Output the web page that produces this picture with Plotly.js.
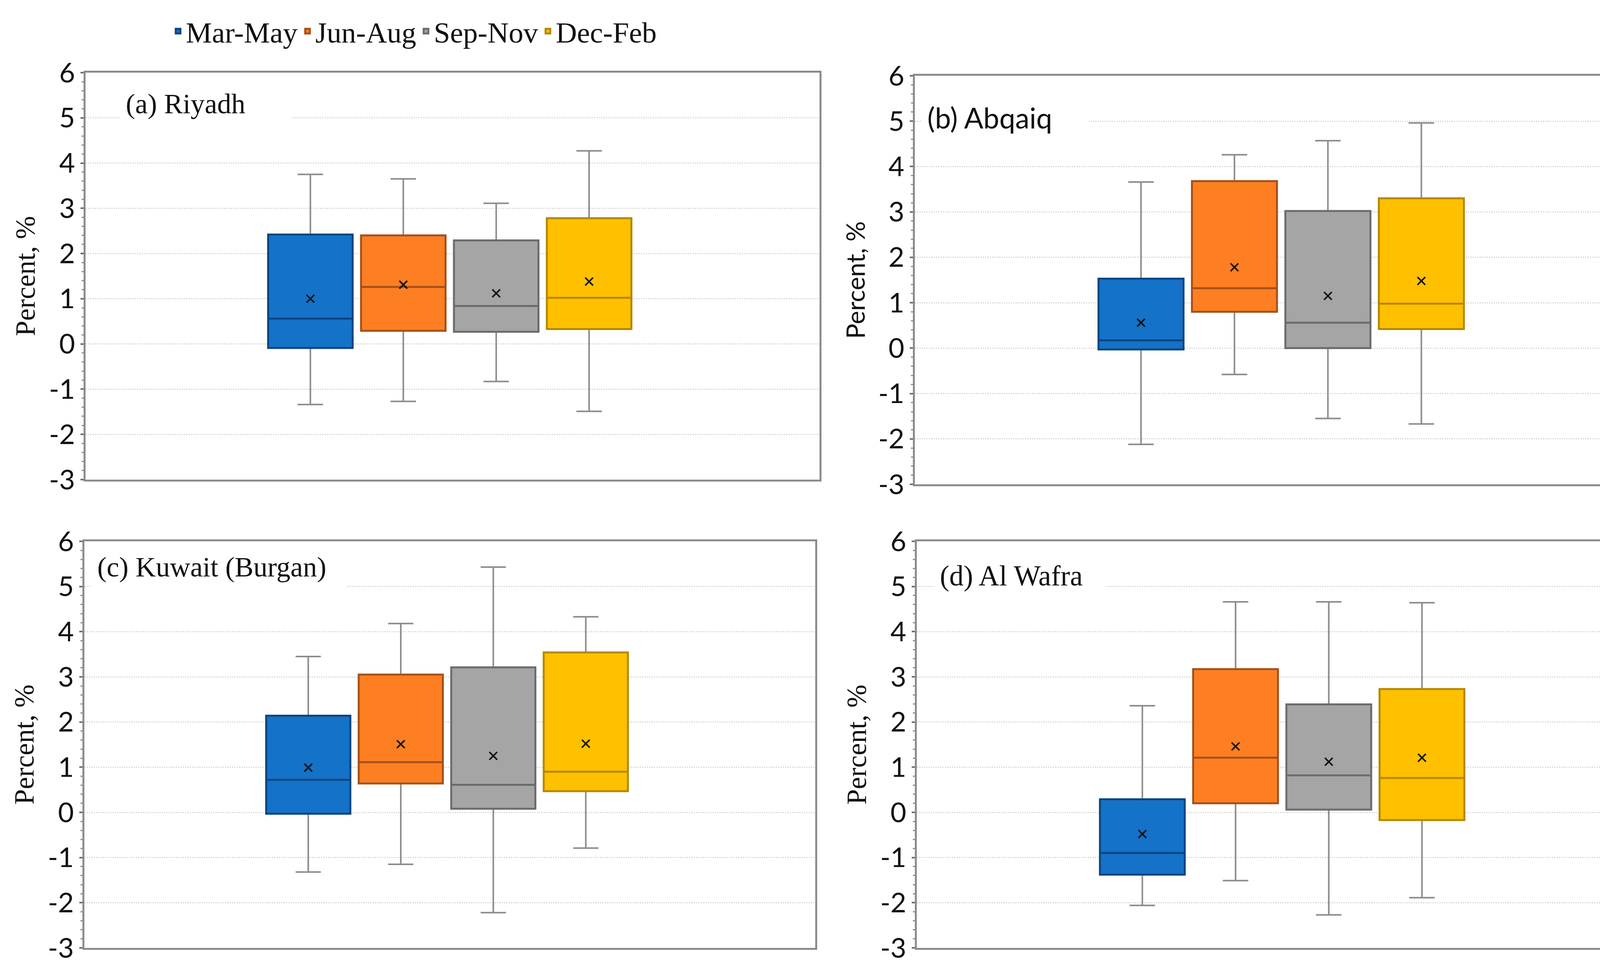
<!DOCTYPE html>
<html>
<head>
<meta charset="utf-8">
<script src="https://cdn.plot.ly/plotly-3.0.1.min.js"></script>
<style>html,body{margin:0;padding:0;background:#fff;}#chart{width:4273px;height:2499px;}</style>
</head>
<body>
<div id="chart"></div>
<script>
// ---- data ----
const seasons = ["Mar-May", "Jun-Aug", "Sep-Nov", "Dec-Feb"];
const stations = ["(a) Riyadh", "(b) Abqaiq", "(c) Kuwait (Burgan)", "(d) Al Wafra"];

const riyadhUpper  = [3.75, 3.65, 3.11, 4.27];
const riyadhQ3     = [2.42, 2.40, 2.29, 2.78];
const riyadhMedian = [0.56, 1.26, 0.84, 1.02];
const riyadhQ1     = [-0.09, 0.29, 0.27, 0.33];
const riyadhLower  = [-1.34, -1.27, -0.83, -1.49];
const riyadhMean   = [1.00, 1.31, 1.12, 1.38];

const abqaiqUpper  = [3.66, 4.26, 4.57, 4.96];
const abqaiqQ3     = [1.53, 3.68, 3.02, 3.30];
const abqaiqMedian = [0.17, 1.32, 0.56, 0.98];
const abqaiqQ1     = [-0.03, 0.80, 0.00, 0.42];
const abqaiqLower  = [-2.12, -0.58, -1.55, -1.67];
const abqaiqMean   = [0.56, 1.78, 1.15, 1.48];

const kuwaitUpper  = [3.45, 4.18, 5.43, 4.33];
const kuwaitQ3     = [2.14, 3.05, 3.21, 3.54];
const kuwaitMedian = [0.72, 1.11, 0.61, 0.90];
const kuwaitQ1     = [-0.03, 0.64, 0.08, 0.47];
const kuwaitLower  = [-1.32, -1.15, -2.22, -0.79];
const kuwaitMean   = [0.99, 1.51, 1.25, 1.52];

const wafraUpper  = [2.36, 4.66, 4.66, 4.64];
const wafraQ3     = [0.29, 3.17, 2.39, 2.73];
const wafraMedian = [-0.90, 1.21, 0.82, 0.76];
const wafraQ1     = [-1.38, 0.20, 0.06, -0.17];
const wafraLower  = [-2.06, -1.51, -2.27, -1.89];
const wafraMean   = [-0.48, 1.46, 1.12, 1.21];

const yTickVals = [-3, -2, -1, 0, 1, 2, 3, 4, 5, 6];
const yTickText = ["-3", "-2", "-1", "0", "1", "2", "3", "4", "5", "6"];
const yLabel = "Percent, %";

// ---- styles ----
const fillColors = ["#1472C8", "#FE7F22", "#A5A5A5", "#FFC000"];
const edgeColors = ["#0B4580", "#A4501B", "#6C6C6C", "#B48800"];
const whiskerColor = "#8C8C8C";
const SERIF = "Liberation Serif, Times New Roman, serif";
const SANS = "Lato, Carlito, Calibri, sans-serif";

const panelData = [
  {upper: riyadhUpper, q3: riyadhQ3, med: riyadhMedian, q1: riyadhQ1, lower: riyadhLower, mean: riyadhMean},
  {upper: abqaiqUpper, q3: abqaiqQ3, med: abqaiqMedian, q1: abqaiqQ1, lower: abqaiqLower, mean: abqaiqMean},
  {upper: kuwaitUpper, q3: kuwaitQ3, med: kuwaitMedian, q1: kuwaitQ1, lower: kuwaitLower, mean: kuwaitMean},
  {upper: wafraUpper, q3: wafraQ3, med: wafraMedian, q1: wafraQ1, lower: wafraLower, mean: wafraMean}
];

// layout geometry per panel
const W = 4273, H = 2499;
const panels = [
  {x0: 219, x1: 2098, yTop: 186, yBot: 1228, titleFont: SERIF, labelFont: SERIF, boxL: 307, boxW: 439, titleY: 266, tSize: 72},
  {x0: 2342, x1: 4232, yTop: 194, yBot: 1240, titleFont: SANS, labelFont: SANS, boxL: 2359, boxW: 427, titleY: 301, tSize: 73},
  {x0: 216, x1: 2087, yTop: 1386, yBot: 2427, titleFont: SERIF, labelFont: SERIF, boxL: 234, boxW: 650, titleY: 1452, tSize: 72},
  {x0: 2347, x1: 4232, yTop: 1386, yBot: 2427, titleFont: SERIF, labelFont: SERIF, boxL: 2391, boxW: 437, titleY: 1474, tSize: 73}
];

const traces = [];
const layout = {
  width: W, height: H,
  margin: {l: 0, r: 0, t: 0, b: 0},
  paper_bgcolor: "#ffffff",
  plot_bgcolor: "#ffffff",
  showlegend: true,
  legend: {
    orientation: "h", x: 0.1020, xanchor: "left", y: 1 - 80 / H, yanchor: "middle",
    font: {family: SERIF, size: 75, color: "#111"},
    itemwidth: 30, tracegroupgap: 0, bgcolor: "rgba(0,0,0,0)"
  },
  annotations: []
};

panels.forEach((p, k) => {
  const n = k === 0 ? "" : String(k + 1);
  const xa = "x" + n, ya = "y" + n;
  const d = panelData[k];
  seasons.forEach((s, i) => {
    // whiskers (gray)
    traces.push({
      type: "box", xaxis: xa, yaxis: ya, x: [s],
      q1: [d.q1[i]], median: [d.med[i]], q3: [d.q3[i]],
      lowerfence: [d.lower[i]], upperfence: [d.upper[i]],
      width: 0.91, whiskerwidth: 0.3, boxpoints: false,
      fillcolor: "rgba(0,0,0,0)", line: {color: whiskerColor, width: 4},
      showlegend: false, hoverinfo: "skip"
    });
    // coloured box body + median
    traces.push({
      type: "box", xaxis: xa, yaxis: ya, x: [s], name: s, legendgroup: s,
      q1: [d.q1[i]], median: [d.med[i]], q3: [d.q3[i]],
      lowerfence: [d.q1[i]], upperfence: [d.q3[i]],
      width: 0.91, whiskerwidth: 0, boxpoints: false,
      fillcolor: fillColors[i], line: {color: edgeColors[i], width: 5},
      showlegend: k === 0
    });
    // mean marker
    traces.push({
      type: "scatter", mode: "markers", xaxis: xa, yaxis: ya, x: [s], y: [d.mean[i]],
      marker: {symbol: "x-thin", size: 20, line: {width: 4, color: "#151515"}},
      showlegend: false, hoverinfo: "y"
    });
  });

  layout["xaxis" + n] = {
    domain: [p.x0 / W, p.x1 / W], anchor: ya,
    type: "category", categoryorder: "array", categoryarray: seasons,
    range: [-2.42, 5.48], showticklabels: false, ticks: "",
    showgrid: false, zeroline: false,
    showline: true, linecolor: "#8C8C8C", linewidth: 5, mirror: true, fixedrange: true
  };
  layout["yaxis" + n] = {
    domain: [1 - p.yBot / H, 1 - p.yTop / H], anchor: xa,
    range: [-3, 6], tickmode: "array", tickvals: yTickVals, ticktext: yTickText,
    ticks: "outside", ticklen: 8, tickwidth: 4, tickcolor: "#6e6e6e",
    minor: {tickmode: "linear", tick0: -3, dtick: 0.2, ticks: "outside", ticklen: 5, tickwidth: 3, tickcolor: "#8c8c8c", showgrid: false},
    showgrid: true, gridcolor: "#d6d6d6", gridwidth: 3, griddash: "dot",
    zeroline: false, showline: true, linecolor: "#8C8C8C", linewidth: 5, mirror: true,
    tickfont: {family: SANS, size: 70, color: "#111"},
    title: {text: yLabel, font: {family: p.labelFont, size: p.labelFont === SANS ? 65 : 71, color: "#111"}, standoff: 14},
    fixedrange: true
  };
  layout.annotations.push({
    xref: "paper", yref: "paper", x: p.boxL / W, y: 1 - p.titleY / H,
    xanchor: "left", yanchor: "middle", align: "left",
    text: stations[k], showarrow: false,
    font: {family: p.titleFont, size: p.tSize, color: "#111"},
    bgcolor: "#ffffff", borderpad: 14, width: p.boxW - 28
  });
});

Plotly.newPlot("chart", traces, layout, {displayModeBar: false, staticPlot: true});
</script>
</body>
</html>
